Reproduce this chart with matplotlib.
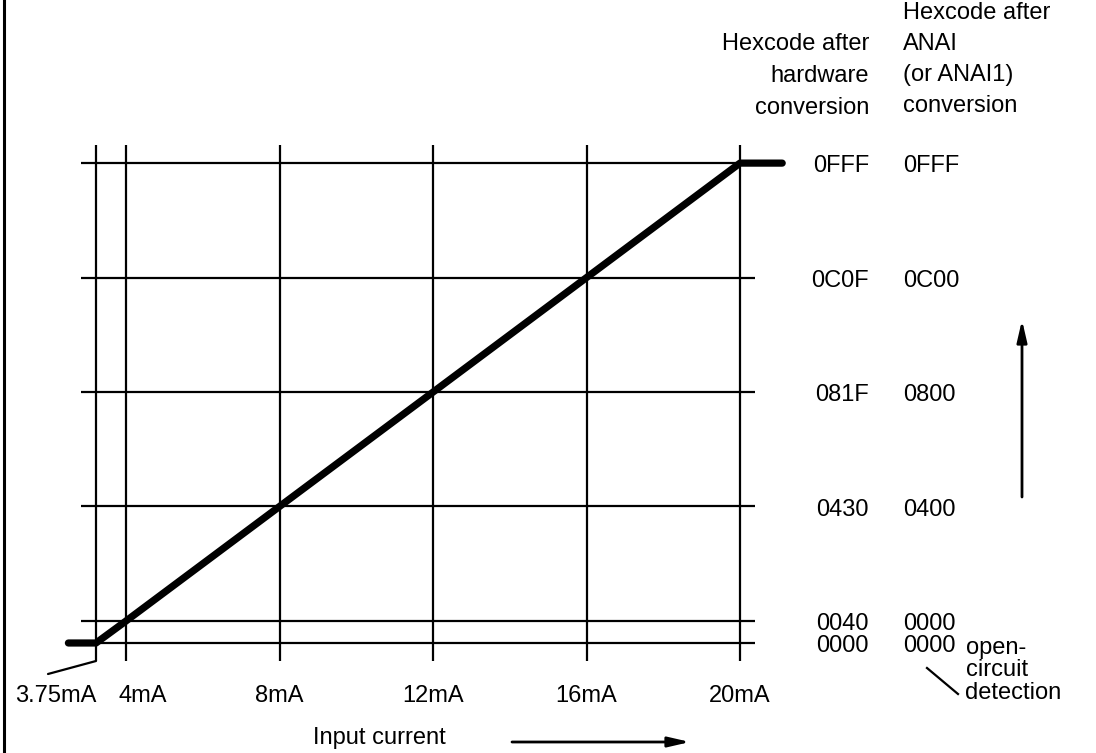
import numpy as np
import matplotlib
matplotlib.use("Agg")
import matplotlib.pyplot as plt
from matplotlib.lines import Line2D

# ---------------- data ----------------
current_ma = [3.75, 4, 8, 12, 16, 20]
current_labels = ["3.75mA", "4mA", "8mA", "12mA", "16mA", "20mA"]
hw_codes = [0x000, 0x040, 0x430, 0x81F, 0xC0F, 0xFFF]
hw_labels = ["0000", "0040", "0430", "081F", "0C0F", "0FFF"]
anai_labels = ["0000", "0000", "0400", "0800", "0C00", "0FFF"]

curve_ma = [3.52, 3.75, 4, 8, 12, 16, 20, 21.1]
curve_code = [0x000, 0x000, 0x040, 0x430, 0x81F, 0xC0F, 0xFFF, 0xFFF]

header_hw = ["Hexcode after", "hardware", "conversion"]
header_anai = ["Hexcode after", "ANAI", "(or ANAI1)", "conversion"]
oc_text = ["open-", "circuit", "detection"]
x_title = "Input current"

# ---------------- layout (pixels) ----------------
W, H = 1096, 753
PX4, PXMA = 126.0, 38.375        # pixel of 4 mA, pixels per mA
PY40, PYU = 621.0, 114.5 / 1008  # pixel of 0x040, pixels per code unit
KX = 30 / PXMA / 0.25            # stretch below 4 mA (diagram not to scale)
KY = 22 / PYU / 64               # stretch below 0x040
AX_L, AX_R, AX_T, AX_B = 81, 755, 145, 661

def fx(x):
    x = np.asarray(x, dtype=float)
    return np.where(x >= 4, x, 4 - (4 - x) * KX)

def gx(t):
    t = np.asarray(t, dtype=float)
    return np.where(t >= 4, t, 4 - (4 - t) / KX)

def fy(y):
    y = np.asarray(y, dtype=float)
    return np.where(y >= 64, y, 64 - (64 - y) * KY)

def gy(t):
    t = np.asarray(t, dtype=float)
    return np.where(t >= 64, t, 64 - (64 - t) / KY)

plt.rcParams["font.family"] = ["Liberation Sans", "DejaVu Sans"]
FS = 17

fig = plt.figure(figsize=(W / 100, H / 100), dpi=100)
ax = fig.add_axes([AX_L / W, 1 - AX_B / H, (AX_R - AX_L) / W, (AX_B - AX_T) / H])
ax.set_xscale("function", functions=(fx, gx))
ax.set_yscale("function", functions=(fy, gy))
ax.set_xlim(float(gx(4 + (AX_L - PX4) / PXMA)), float(gx(4 + (AX_R - PX4) / PXMA)))
ax.set_ylim(float(gy(64 + (PY40 - AX_B) / PYU)), float(gy(64 + (PY40 - AX_T) / PYU)))

for s in ax.spines.values():
    s.set_visible(False)
ax.set_xticks(current_ma)
ax.set_yticks(hw_codes)
ax.tick_params(length=0, labelbottom=False, labelleft=False)
ax.grid(True, color="black", linewidth=1.6)
ax.set_facecolor("none")

# transfer curve
ax.plot(curve_ma, curve_code, color="black", linewidth=5.2,
        solid_capstyle="round", solid_joinstyle="round", clip_on=False, zorder=5)

PT = 0.72  # points per pixel at 100 dpi

# x labels
x_off = [-40, 17, 0, 0, 0, 0]
for x, lab, dx in zip(current_ma, current_labels, x_off):
    ax.annotate(lab, xy=(x, 0), xycoords=ax.get_xaxis_transform(),
                xytext=(dx * PT, -35 * PT), textcoords="offset points",
                ha="center", va="center", fontsize=FS, annotation_clip=False)

# leader from 3.75 mA line
ax.annotate("", xy=(3.75, 0), xycoords=ax.get_xaxis_transform(),
            xytext=(-48 * PT, -13 * PT), textcoords="offset points",
            arrowprops=dict(arrowstyle="-", color="black", lw=1.6,
                            shrinkA=0, shrinkB=0), annotation_clip=False)

# hex labels
for y, l1, l2 in zip(hw_codes, hw_labels, anai_labels):
    ax.annotate(l1, xy=(1, y), xycoords=ax.get_yaxis_transform(),
                xytext=((869 - AX_R) * PT, -3 * PT), textcoords="offset points",
                ha="right", va="center", fontsize=FS, annotation_clip=False)
    ax.annotate(l2, xy=(1, y), xycoords=ax.get_yaxis_transform(),
                xytext=((903 - AX_R) * PT, -3 * PT), textcoords="offset points",
                ha="left", va="center", fontsize=FS, annotation_clip=False)

def ftxt(px, py, s, **kw):
    fig.text(px / W, 1 - py / H, s, fontsize=FS, va="center", **kw)

for i, s in enumerate(header_hw):
    ftxt(869, 44 + 32 * i, s, ha="right")
for i, s in enumerate(header_anai):
    ftxt(903, 13 + 31 * i, s, ha="left")

for (px, py), s in zip([(966, 648), (966, 670), (965, 693)], oc_text):
    ftxt(px, py, s, ha="left")

ftxt(379, 738, x_title, ha="center")

def fline(x0, y0, x1, y1, lw=1.6):
    fig.add_artist(Line2D([x0 / W, x1 / W], [1 - y0 / H, 1 - y1 / H],
                          transform=fig.transFigure, color="black", lw=lw))

fline(927, 668, 958, 694)
fline(4, 0, 4, H, lw=2.2)

# arrows
ax.annotate("", xy=(1022 / W, 1 - 320 / H), xycoords="figure fraction",
            xytext=(1022 / W, 1 - 497 / H), textcoords="figure fraction",
            arrowprops=dict(arrowstyle="-|>,head_length=1.3,head_width=0.3",
                            color="black", lw=2.0, shrinkA=0, shrinkB=0))
ax.annotate("", xy=(690 / W, 1 - 742 / H), xycoords="figure fraction",
            xytext=(512 / W, 1 - 742 / H), textcoords="figure fraction",
            arrowprops=dict(arrowstyle="-|>,head_length=1.3,head_width=0.3",
                            color="black", lw=2.0, shrinkA=0, shrinkB=0))

fig.savefig("out.png", dpi=100, facecolor="white")
